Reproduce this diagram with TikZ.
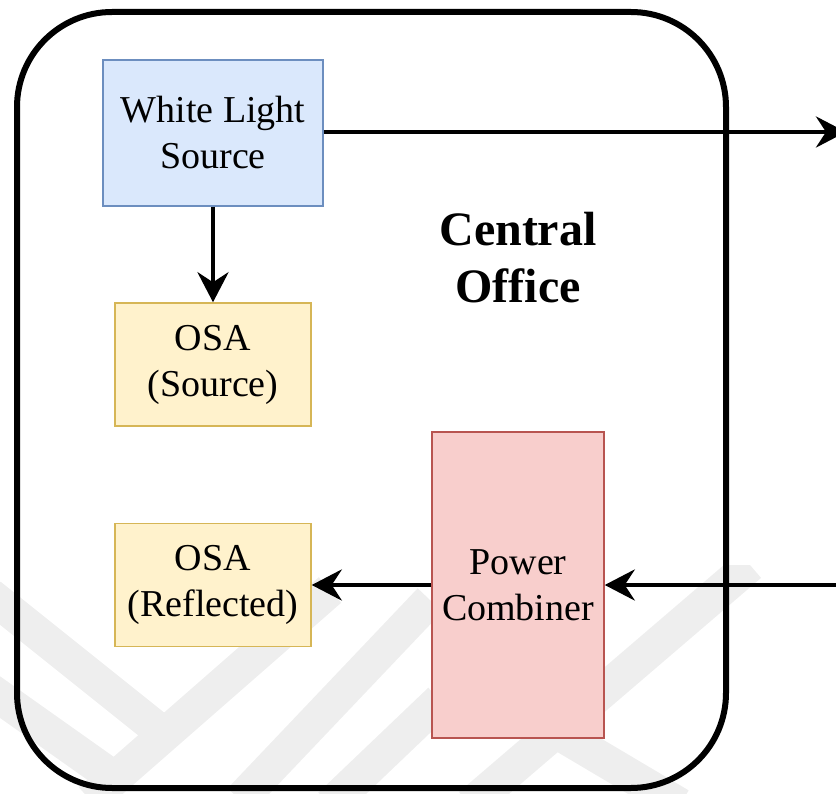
\documentclass[tikz,border=0pt]{standalone}
\usepackage{fontspec}
\setmainfont{Liberation Serif}
\usetikzlibrary{arrows.meta}

\definecolor{wlsfill}{HTML}{DAE8FC}
\definecolor{wlsdraw}{HTML}{6C8EBF}
\definecolor{osafill}{HTML}{FFF2CC}
\definecolor{osadraw}{HTML}{D6B656}
\definecolor{pcfill}{HTML}{F8CECC}
\definecolor{pcdraw}{HTML}{B85450}
\definecolor{wmark}{HTML}{EEEEEE}

\tikzset{
  blockbox/.style={draw, line width=1.5pt, inner sep=0pt, align=center,
    font=\fontsize{38}{46}\selectfont},
  srcbox/.style={blockbox, fill=wlsfill, draw=wlsdraw},
  osabox/.style={blockbox, fill=osafill, draw=osadraw,
    minimum width=196pt, minimum height=123pt},
  combbox/.style={blockbox, fill=pcfill, draw=pcdraw},
  flow/.style={line width=4.5pt, -{Stealth[length=30pt, width=31pt, inset=10pt]}},
  band/.style={wmark, line width=34pt, line cap=butt},
}

\begin{document}
\begin{tikzpicture}[x=1pt, y=-1pt]
  \useasboundingbox (0,0) rectangle (836,794);

  % faint background emblem
  \begin{scope}
    \clip (0,565) rectangle (836,794);
    \draw[band] (-10,595) -- (165,735);
    \draw[band] (-10,690) -- (110,775);
    \draw[band] (90,800) -- (330,590);
    \draw[band] (240,800) -- (430,600);
    \draw[band] (330,805) -- (440,700);
    \draw[band] (470,805) -- (750,565);
    \draw[band] (540,722) -- (680,805);
  \end{scope}

  % central office enclosure
  \draw[line width=6pt, rounded corners=95pt] (17,12) rectangle (726,788);
  \node[font=\fontsize{48}{57}\selectfont\bfseries, align=center] (co) at (518,258)
    {Central\\Office};

  % blocks
  \node[srcbox, minimum width=220pt, minimum height=146pt] (wls) at (213,133)
    {White Light\\Source};
  \node[osabox] (osas) at (213,364.5) {OSA\\(Source)};
  \node[osabox] (osar) at (213,585) {OSA\\(Reflected)};
  \node[combbox, minimum width=172pt, minimum height=306pt] (pc) at (518,585)
    {Power\\Combiner};

  % free ends beyond the right margin
  \coordinate (outlink) at (846,132);
  \coordinate (inlink) at (836,585);

  % connections
  \draw[flow] (wls.east |- outlink) -- (outlink);
  \draw[flow] (wls.south) -- (osas.north);
  \draw[flow] (inlink) -- (pc.east);
  \draw[flow] (pc.west) -- (osar.east);
\end{tikzpicture}
\end{document}
